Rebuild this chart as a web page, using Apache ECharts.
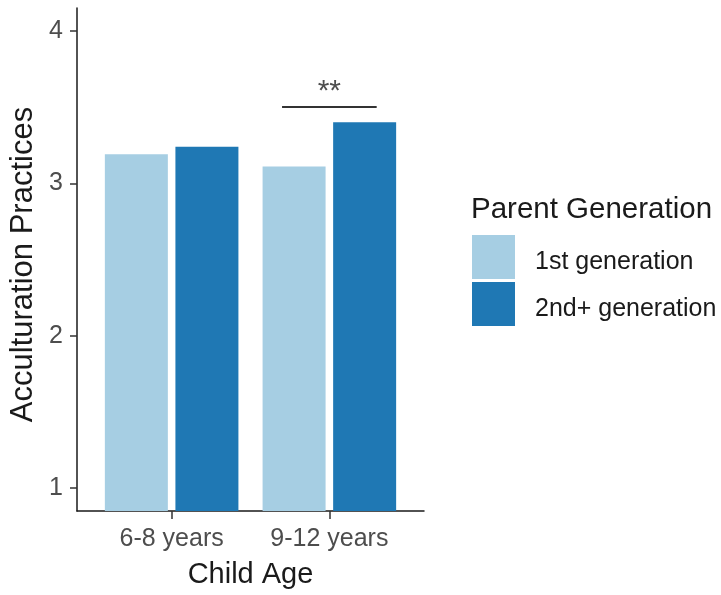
<!DOCTYPE html>
<html>
<head>
<meta charset="utf-8">
<script src="https://cdn.jsdelivr.net/npm/echarts@6/dist/echarts.min.js"></script>
<style>
  html, body { margin: 0; padding: 0; background: #fff; }
  #chart { width: 721px; height: 595px; }
</style>
</head>
<body>
<div id="chart"></div>
<script>
// Child age groups on the x axis (placed at positions 1, 2)
const categories = ['6-8 years', '9-12 years'];
const seriesNames = ['1st generation', '2nd+ generation'];
// Mean acculturation practices per age group
const firstGen = [3.19, 3.11];
const secondGen = [3.24, 3.40];
const yTicks = [1, 2, 3, 4];
// Significance bracket for the 9-12 years comparison
const bracketX = [1.7, 2.3];
const bracketY = 3.5;
const bracketLabel = '**';

const colors = ['#A6CEE3', '#1F78B4'];
const FONT = '"Liberation Sans", Arial, sans-serif';

const toPairs = vals => vals.map((v, i) => [i + 1, v]);

const chart = echarts.init(document.getElementById('chart'), null, { renderer: 'canvas' });

chart.setOption({
  animation: false,
  backgroundColor: '#ffffff',
  textStyle: { fontFamily: FONT },
  grid: { left: 77, top: 8, width: 347, height: 503, containLabel: false },
  title: {
    text: 'Parent Generation',
    left: 471, top: 195, padding: 0,
    textStyle: { fontFamily: FONT, fontSize: 29.5, fontWeight: 'normal', color: '#1a1a1a' }
  },
  legend: {
    orient: 'vertical',
    left: 472, top: 235,
    itemWidth: 43, itemHeight: 44, itemGap: 3,
    icon: 'rect',
    padding: 0,
    data: seriesNames,
    formatter: '{t|{name}}',
    textStyle: {
      fontFamily: FONT, fontSize: 25, color: '#1a1a1a', padding: [0, 0, 0, 15],
      rich: { t: { fontFamily: FONT, fontSize: 25, color: '#1a1a1a', padding: [10, 0, 0, 0] } }
    }
  },
  xAxis: {
    type: 'value',
    min: 0.4, max: 2.6,
    name: 'Child Age',
    nameLocation: 'middle',
    nameGap: 49,
    nameTextStyle: { fontFamily: FONT, fontSize: 29, color: '#1a1a1a' },
    axisLine: { show: true, lineStyle: { color: '#1a1a1a', width: 1.5 } },
    axisTick: { show: true, customValues: [1, 2], length: 8, lineStyle: { color: '#333', width: 1.5 } },
    axisLabel: {
      customValues: [1, 2],
      formatter: v => categories[Math.round(v) - 1] || '',
      fontFamily: FONT, fontSize: 25, color: '#4D4D4D', margin: 16
    },
    splitLine: { show: false }
  },
  yAxis: {
    type: 'value',
    min: 0.85, max: 4.15,
    name: 'Acculturation Practices',
    nameLocation: 'middle',
    nameGap: 38,
    nameTextStyle: { fontFamily: FONT, fontSize: 31, color: '#1a1a1a', padding: [0, 10, 0, 0] },
    axisLine: { show: true, lineStyle: { color: '#1a1a1a', width: 1.5 } },
    axisTick: { show: true, customValues: yTicks, length: 7, lineStyle: { color: '#333', width: 1.5 } },
    axisLabel: {
      customValues: yTicks,
      fontFamily: FONT, fontSize: 25, color: '#4D4D4D', margin: 14
    },
    splitLine: { show: false }
  },
  series: [
    {
      name: seriesNames[0], type: 'bar',
      data: toPairs(firstGen),
      barWidth: 63, barGap: '12%',
      itemStyle: { color: colors[0] }
    },
    {
      name: seriesNames[1], type: 'bar',
      data: toPairs(secondGen),
      barWidth: 63, barGap: '12%',
      itemStyle: { color: colors[1] }
    },
    {
      name: 'bracket', type: 'line',
      data: bracketX.map(x => [x, bracketY]),
      symbol: 'none',
      lineStyle: { color: '#333', width: 2 },
      silent: true
    },
    {
      name: 'signif', type: 'scatter',
      data: [[(bracketX[0] + bracketX[1]) / 2, bracketY]],
      symbolSize: 0,
      label: {
        show: true, position: 'top', distance: 0,
        formatter: bracketLabel,
        fontFamily: FONT, fontSize: 30, color: '#222'
      },
      silent: true
    }
  ]
});
</script>
</body>
</html>
